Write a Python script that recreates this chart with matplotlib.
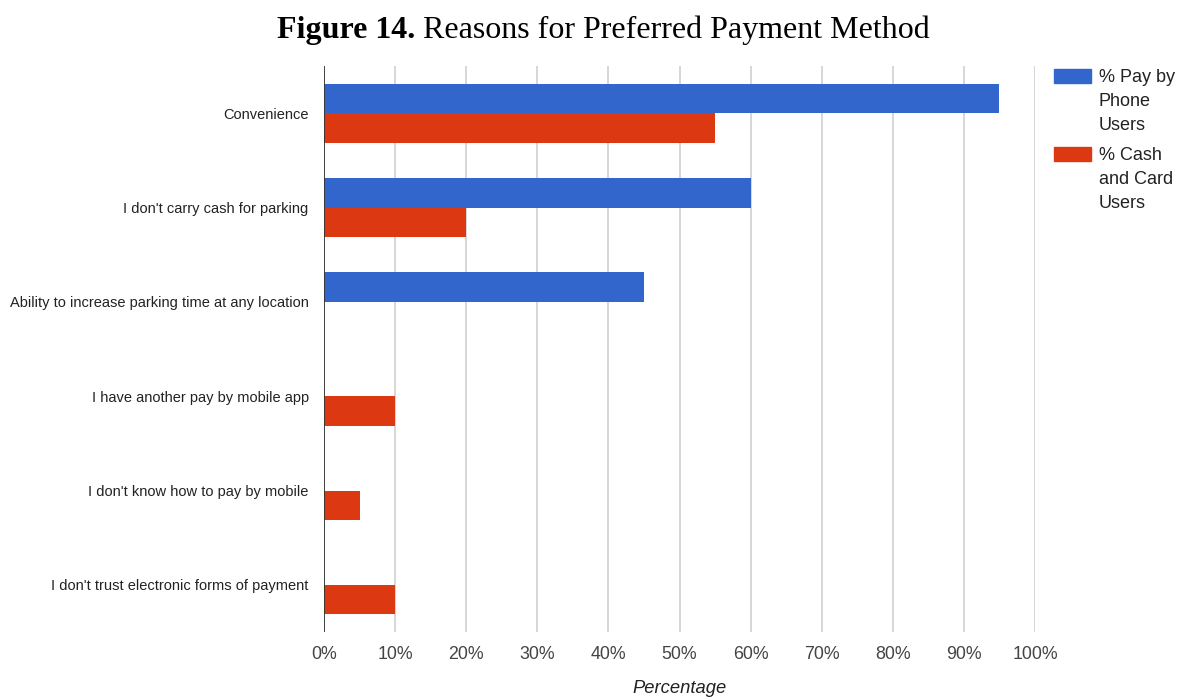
import numpy as np
import matplotlib.pyplot as plt
from matplotlib.patches import Rectangle

# survey results, % of respondents per reason
reasons = [
    "Convenience",
    "I don't carry cash for parking",
    "Ability to increase parking time at any location",
    "I have another pay by mobile app",
    "I don't know how to pay by mobile",
    "I don't trust electronic forms of payment",
]
phone_users = [95, 60, 45, 0, 0, 0]
cash_card_users = [55, 20, 0, 10, 5, 10]
series_names = ["% Pay by\nPhone\nUsers", "% Cash\nand Card\nUsers"]
x_ticks = list(range(0, 101, 10))

blue = "#3366cc"
red = "#dc3912"

plt.rcParams['font.family'] = ['Liberation Sans', 'DejaVu Sans']

fig = plt.figure(figsize=(11.79, 6.98), dpi=100)
W, H = 1179, 698
ax = fig.add_axes([324 / W, 66 / H, 711 / W, 566 / H])

y = np.arange(len(reasons))
h = 0.3125
ax.barh(y - h / 2, phone_users, height=h, color=blue, linewidth=0)
ax.barh(y + h / 2, cash_card_users, height=h, color=red, linewidth=0)

ax.set_ylim(len(reasons) - 0.5, -0.5)
ax.set_xlim(0, 100)
ax.set_yticks(y)
ax.set_yticklabels(reasons, fontsize=10.55, color="#222222")
ax.set_xticks(x_ticks)
ax.set_xticklabels([f"{t}%" for t in x_ticks], fontsize=12.8, color="#444444")
ax.tick_params(axis='y', length=0, pad=11)
ax.tick_params(axis='x', length=0, pad=10)
for s in ax.spines.values():
    s.set_visible(False)

for t in x_ticks[1:]:
    ax.axvline(t, color="#d0d0d0", linewidth=1.2, zorder=0)
ax.axvline(0, color="#333333", linewidth=1.3, zorder=3)

ax.set_xlabel("Percentage", fontsize=13.2, style='italic', color="#222222", labelpad=12)

# legend drawn by hand in pixel coordinates
for i, (name, col) in enumerate(zip(series_names, [blue, red])):
    yc = 76 + i * 78
    fig.patches.append(Rectangle((1054 / W, 1 - (yc + 7) / H), 37 / W, 14 / H,
                                 transform=fig.transFigure, color=col))
    fig.text(1099 / W, 1 - (yc - 7) / H, name, fontsize=13, color="#222222",
             va='top', ha='left', linespacing=1.52)

title1 = fig.text(277 / W, 1 - 38 / H, "Figure 14.", fontsize=23, fontweight='bold',
                  family='Liberation Serif', va='baseline')
ax.annotate(" Reasons for Preferred Payment Method", xy=(1, 0), xycoords=title1,
            fontsize=23, family='Liberation Serif', va='bottom', ha='left',
            annotation_clip=False)

fig.savefig("out.png", dpi=100)
